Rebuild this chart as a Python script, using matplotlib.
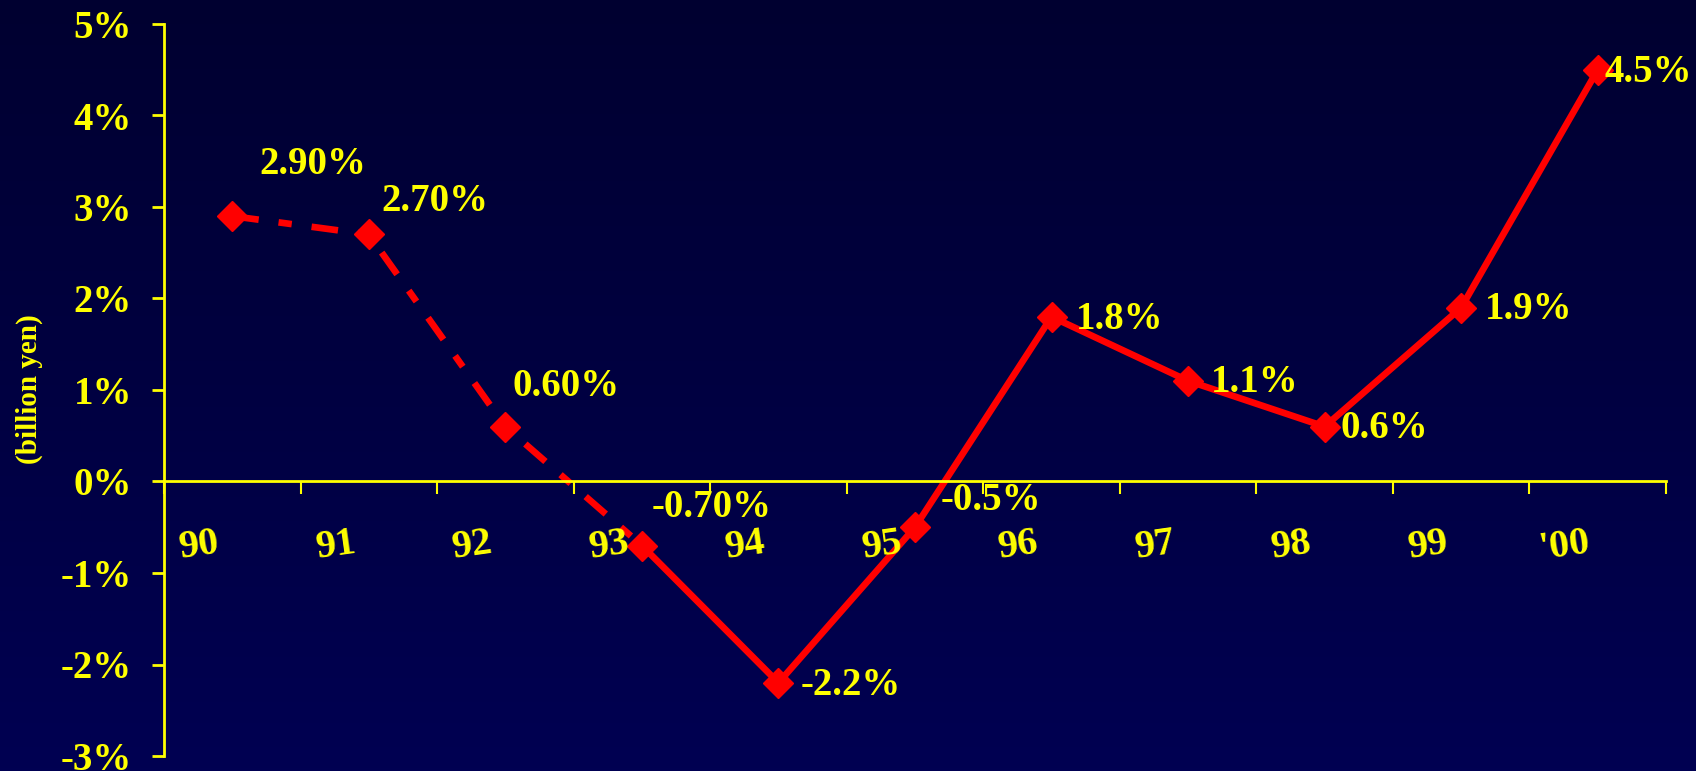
import numpy as np
import matplotlib
matplotlib.use('Agg')
import matplotlib.pyplot as plt
from matplotlib.colors import LinearSegmentedColormap

# data
years = ['90', '91', '92', '93', '94', '95', '96', '97', '98', '99', "'00"]
growth = [2.9, 2.7, 0.6, -0.7, -2.2, -0.5, 1.8, 1.1, 0.6, 1.9, 4.5]
point_labels = ['2.90%', '2.70%', '0.60%', '-0.70%', '-2.2%', '-0.5%',
                '1.8%', '1.1%', '0.6%', '1.9%', '4.5%']
y_ticks = [-3, -2, -1, 0, 1, 2, 3, 4, 5]
n_dashed = 4  # first points joined by a dashed line

# label offsets in pixels (left edge of text, vertical centre)
label_offsets = [(27, 52), (13, 33), (7, 40), (10, 38), (22, -3), (26, 27),
                 (24, -3), (23, -2), (16, -2), (24, -2), (7, -3)]

YELLOW = '#FFFF00'
RED = '#FF0000'
FONT = 'Liberation Serif'

fig = plt.figure(figsize=(16.96, 7.71), dpi=100)

# background gradient
bg = fig.add_axes([0, 0, 1, 1], zorder=-1)
cmap = LinearSegmentedColormap.from_list('navy', ['#000030', '#000052'])
bg.imshow(np.linspace(0, 1, 256).reshape(-1, 1), aspect='auto', cmap=cmap,
          extent=[0, 1, 0, 1])
bg.axis('off')

ax = fig.add_axes([164 / 1696, 1 - 756 / 771, (1666 - 164) / 1696, (756 - 24) / 771])
ax.patch.set_alpha(0)

x = np.arange(len(years)) + 0.5
ax.plot(x[:n_dashed], growth[:n_dashed], color=RED, lw=4.8, dashes=(4, 3, 2, 3),
        solid_capstyle='butt', dash_capstyle='butt')
ax.plot(x[n_dashed - 1:], growth[n_dashed - 1:], color=RED, lw=4.8)
ax.plot(x, growth, ls='', marker='D', ms=15, color=RED)

for xi, yi, lab, (dx, dy) in zip(x, growth, point_labels, label_offsets):
    ax.annotate(lab, (xi, yi), xytext=(dx, dy), textcoords='offset pixels',
                ha='left', va='center', color=YELLOW, fontsize=28,
                fontweight='bold', family=FONT)

ax.set_xlim(0, len(years))
ax.set_ylim(-3, 5)

for s in ['top', 'right']:
    ax.spines[s].set_visible(False)
ax.spines['left'].set_color(YELLOW)
ax.spines['left'].set_linewidth(2)
ax.spines['bottom'].set_color(YELLOW)
ax.spines['bottom'].set_linewidth(2)
ax.spines['bottom'].set_position(('data', 0))

ax.set_yticks(y_ticks)
ax.set_yticklabels([f'{t}%' for t in y_ticks])
ax.tick_params(axis='y', colors=YELLOW, length=9, width=2, pad=14,
               labelsize=28)
for t in ax.get_yticklabels():
    t.set_fontweight('bold')
    t.set_family(FONT)
    t.set_color(YELLOW)

ax.set_xticks(np.arange(len(years) + 1))
ax.set_xticklabels([])
ax.tick_params(axis='x', colors=YELLOW, length=9, width=1.5, direction='out')

# category labels, a bit left of centre and slightly tilted
for xi, lab in zip(x, years):
    ax.text(xi - 0.24, -0.7, lab, ha='center', va='center', rotation=8,
            color=YELLOW, fontsize=29, fontweight='bold', family=FONT)

fig.text(29 / 1696, 1 - 389 / 771, '(billion yen)', rotation=90, ha='center',
         va='center', color=YELLOW, fontsize=21, fontweight='bold', family=FONT)

fig.savefig('out.png', dpi=100)
